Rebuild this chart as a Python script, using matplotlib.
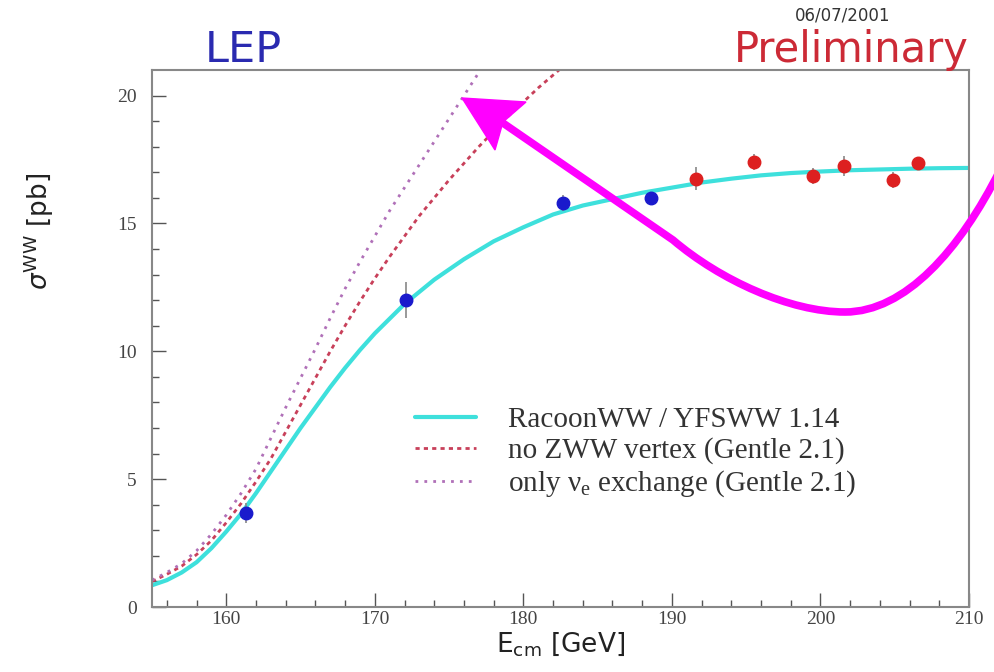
import numpy as np
import matplotlib
matplotlib.use("Agg")
import matplotlib.pyplot as plt
from matplotlib.path import Path
from matplotlib.patches import PathPatch, Polygon
from matplotlib.font_manager import FontProperties

# LEP measurements
e_lep1 = [161.3, 172.1, 182.7, 188.6]
s_lep1 = [3.67, 12.0, 15.8, 16.0]
err_lep1 = [0.4, 0.7, 0.3, 0.2]

e_lep2 = [191.6, 195.5, 199.5, 201.6, 204.9, 206.6]
s_lep2 = [16.75, 17.4, 16.85, 17.25, 16.7, 17.35]
err_lep2 = [0.45, 0.3, 0.3, 0.4, 0.3, 0.25]

# theory curves
e_racoon = [155, 156, 157, 158, 159, 160, 161, 162, 163, 164, 165, 166, 167, 168, 169, 170,
            172, 174, 176, 178, 180, 182, 184, 186, 188, 190, 192, 194, 196, 198, 200,
            202, 204, 206, 208, 210]
s_racoon = [0.85, 1.05, 1.35, 1.75, 2.3, 2.95, 3.65, 4.45, 5.3, 6.15, 7.0, 7.8, 8.6, 9.35, 10.05, 10.7,
            11.85, 12.8, 13.6, 14.3, 14.85, 15.35, 15.7, 15.95, 16.2, 16.4, 16.6, 16.75, 16.88, 16.97, 17.03,
            17.08, 17.11, 17.14, 17.16, 17.17]

e_nozww = [155, 156, 157, 158, 159, 160, 161, 162, 163, 164, 165, 166, 167, 168, 169, 170,
           171, 172, 173, 174, 175, 176, 177, 178, 179, 180, 181, 182, 183]
s_nozww = [1.0, 1.28, 1.6, 2.05, 2.6, 3.3, 4.05, 4.9, 5.8, 6.85, 7.9, 8.95, 10.0, 11.0, 11.95, 12.85,
           13.7, 14.5, 15.3, 16.0, 16.7, 17.35, 18.0, 18.6, 19.2, 19.75, 20.3, 20.8, 21.3]

e_nue = [155, 156, 157, 158, 159, 160, 161, 162, 163, 164, 165, 166, 167, 168, 169, 170,
         171, 172, 173, 174, 175, 176, 177, 178]
s_nue = [1.05, 1.35, 1.7, 2.2, 2.85, 3.6, 4.45, 5.4, 6.6, 7.8, 8.95, 10.1, 11.3, 12.45, 13.5, 14.5,
         15.5, 16.4, 17.3, 18.2, 19.1, 20.0, 20.9, 21.8]

W, H = 994, 672
fig = plt.figure(figsize=(W / 100, H / 100), dpi=100)
ax = fig.add_axes([152 / W, 1 - 607 / H, (969 - 152) / W, (607 - 70) / H])

ax.plot(e_racoon, s_racoon, color="#3ee0dc", lw=3.0, solid_capstyle="round",
        label="RacoonWW / YFSWW 1.14")
ax.plot(e_nozww, s_nozww, color="#c8405a", lw=2.0, ls=(0, (1.5, 1.5)),
        label="no ZWW vertex (Gentle 2.1)")
ax.plot(e_nue, s_nue, color="#b070b8", lw=2.0, ls=(0, (1, 2.2)),
        label=r"only $\mathregular{\nu_e}$ exchange (Gentle 2.1)")

ax.errorbar(e_lep1, s_lep1, yerr=err_lep1, fmt="o", color="#1a1acc", ms=9,
            ecolor="#888888", elinewidth=1.2, capsize=0, zorder=5)
ax.errorbar(e_lep2, s_lep2, yerr=err_lep2, fmt="o", color="#dd2020", ms=9,
            ecolor="#888888", elinewidth=1.2, capsize=0, zorder=5)

ax.set_xlim(155, 210)
ax.set_ylim(0, 21)
ax.set_xticks(np.arange(160, 211, 10))
ax.set_xticks(np.arange(156, 210, 2), minor=True)
ax.set_yticks(np.arange(0, 21, 5))
ax.set_yticks(np.arange(0, 21, 1), minor=True)
ax.tick_params(which="both", direction="in", top=False, right=False, color="#555555")
ax.tick_params(which="major", length=10, width=1)
ax.tick_params(which="minor", length=5, width=1)
ax.tick_params(axis="x", pad=3)
ax.tick_params(axis="y", pad=11)
for lab in ax.get_xticklabels() + ax.get_yticklabels():
    lab.set_fontfamily("Liberation Serif")
    lab.set_fontsize(14)
    lab.set_color("#444444")
for sp in ax.spines.values():
    sp.set_color("#888888")
    sp.set_linewidth(1.5)

ax.set_xlabel(r"E$_{\mathregular{cm}}$ [GeV]", fontsize=19, family="DejaVu Sans",
              color="#222222", labelpad=1)
ax.set_ylabel(r"$\sigma^{\mathregular{WW}}$ [pb]", fontsize=19, family="DejaVu Sans",
              color="#222222", math_fontfamily="dejavusans")
ax.yaxis.set_label_coords(-0.118, 0.70)

leg_font = FontProperties(family="Liberation Serif", size=21, math_fontfamily="stix")
ax.legend(loc="upper left", bbox_to_anchor=((400 - 152) / 817, (607 - 392) / 537),
          frameon=False, prop=leg_font, handlelength=2.1, handletextpad=1.1,
          labelspacing=0.15, labelcolor="#333333", borderpad=0)

fig.text(243 / W, 1 - 50 / H, "LEP", color="#2a2ab0", fontsize=31, va="center",
         ha="center", family="DejaVu Sans")
fig.text(969 / W, 1 - 50 / H, "Preliminary", color="#cc2a36", fontsize=30, va="center",
         ha="right", family="DejaVu Sans")
fig.text(843 / W, 1 - 16 / H, "06/07/2001", color="#333333", fontsize=12, va="center",
         ha="center", family="DejaVu Sans")

# hand-drawn magenta arrow on top of the plot (pixel coords)
def px(x, y):
    return (x / W, 1 - y / H)

verts = [px(1000, 170), px(960, 250), px(905, 312), px(845, 312),
         px(790, 312), px(720, 280), px(673, 240),
         px(500, 121)]
codes = [Path.MOVETO, Path.CURVE4, Path.CURVE4, Path.CURVE4,
         Path.CURVE4, Path.CURVE4, Path.CURVE4,
         Path.LINETO]
fig.patches.append(PathPatch(Path(verts, codes), transform=fig.transFigure,
                             fill=False, edgecolor="#ff00ff", lw=5.5, capstyle="round"))
fig.patches.append(Polygon([px(462, 98), px(526, 102), px(503, 122), px(495, 150)],
                           closed=True, transform=fig.transFigure,
                           facecolor="#ff00ff", edgecolor="#ff00ff"))

fig.savefig("out.png", dpi=100)
